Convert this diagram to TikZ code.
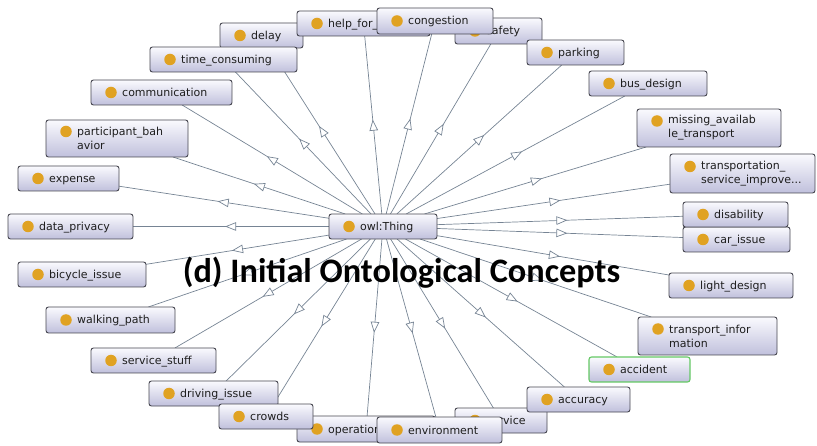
\documentclass[tikz,border=0pt]{standalone}
\usepackage{fontspec}
\setmainfont{DejaVu Sans}
\newfontfamily\titlefont{Carlito}
\usetikzlibrary{arrows.meta,decorations.markings}
\definecolor{boxtop}{RGB}{250,250,254}
\definecolor{boxbot}{RGB}{192,192,220}
\definecolor{boxline}{RGB}{70,70,80}
\definecolor{dotc}{RGB}{224,162,34}
\definecolor{edgec}{RGB}{118,132,148}
\definecolor{selc}{RGB}{100,200,100}
\definecolor{textc}{RGB}{30,30,30}
\pgfdeclarelayer{bg}\pgfdeclarelayer{fg}\pgfsetlayers{bg,main,fg}
\tikzset{
 cbox/.style={rectangle, rounded corners=2.5pt, draw=boxline, line width=0.9pt, top color=boxtop, bottom color=boxbot, inner sep=0pt, outer sep=0pt},
 cdot/.style={circle, fill=dotc, minimum size=11.5pt, inner sep=0pt},
 clabel/.style={inner sep=0pt, align=left, text=textc, font=\fontsize{11}{14}\selectfont},
 edge/.style={draw=edgec, line width=0.7pt, postaction={decorate},
   decoration={markings, mark=at position 0.53 with {\arrow{Triangle[length=11pt,width=8.5pt,fill=white,line width=0.7pt]}}}}
}
% single-line box: [style]{name}{left}{top}{right}{bottom}{label}
\newcommand\cbox[7][]{%
 \node[cbox,#1,minimum width={(#5-#3)*1pt},minimum height={(#6-#4)*1pt}] (#2) at ({(#3+#5)/2},{(#4+#6)/2}) {};
 \node[cdot] (#2d) at ([xshift=20pt]#2.west) {};
 \node[clabel,anchor=base west] (#2t) at ([xshift=31pt,yshift=-4pt]#2.west) {#7};
}
% two-line box
\newcommand\cboxii[7][]{%
 \node[cbox,#1,minimum width={(#5-#3)*1pt},minimum height={(#6-#4)*1pt}] (#2) at ({(#3+#5)/2},{(#4+#6)/2}) {};
 \node[cdot] (#2d) at ([xshift=20pt,yshift=7pt]#2.west) {};
 \node[clabel,anchor=west] (#2t) at ([xshift=31pt]#2.west) {#7};
}
\begin{document}
\begin{tikzpicture}[x=1pt,y=-1pt]
\useasboundingbox (0,0) rectangle (817,446);
\cbox{delay}{220}{23}{303}{48}{delay}
\cbox{help}{297}{11}{430}{36}{help\_for\_}
\cbox{safety}{455}{18}{542}{44}{safety}
\cbox{congestion}{377}{8}{493}{34}{congestion}
\cbox{timecons}{150}{47}{297}{72}{time\_consuming}
\cbox{communication}{91}{80}{232}{105}{communication}
\cboxii{participant}{46}{120}{188}{157}{participant\_bah\\avior}
\cbox{expense}{18}{166}{119}{191}{expense}
\cbox{dataprivacy}{8}{214}{133}{239}{data\_privacy}
\cbox{bicycle}{18}{262}{146}{287}{bicycle\_issue}
\cbox{walking}{46}{307}{175}{333}{walking\_path}
\cbox{servicestuff}{91}{348}{216}{373}{service\_stuff}
\cbox{driving}{149}{381}{278}{406}{driving\_issue}
\cbox{operation}{297}{416}{435}{442}{operation}
\cbox{crowds}{219}{404}{313}{429}{crowds}
\cbox{service}{455}{408}{547}{433}{service}
\cbox{environment}{377}{417}{502}{443}{environment}
\cbox{accuracy}{527}{387}{630}{412}{accuracy}
\cbox[draw=selc,line width=1.1pt]{accident}{589}{357}{690}{382}{accident}
\cboxii{tinfo}{638}{317}{777}{355}{transport\_infor\\mation}
\cbox{light}{669}{273}{793}{298}{light\_design}
\cbox{carissue}{683}{227}{790}{252}{car\_issue}
\cbox{disability}{683}{202}{788}{227}{disability}
\cboxii{tsi}{670}{154}{815}{193}{transportation\_\\service\_improve...}
\cboxii{missing}{637}{109}{781}{147}{missing\_availab\\le\_transport}
\cbox{busdesign}{589}{71}{707}{96}{bus\_design}
\cbox{parking}{527}{40}{624}{65}{parking}
\cbox{thing}{329}{214}{437}{239}{owl:Thing}
\begin{pgfonlayer}{bg}
\foreach \n in {delay,help,safety,congestion,timecons,communication,participant,expense,dataprivacy,bicycle,walking,servicestuff,driving,operation,crowds,service,environment,accuracy,accident,tinfo,light,carissue,disability,tsi,missing,busdesign,parking}
  \draw[edge] (thing) -- (\n);
\end{pgfonlayer}
\begin{pgfonlayer}{fg}
\node[anchor=base, inner sep=0pt, font=\titlefont\bfseries\fontsize{34.3}{40}\selectfont] (title) at (401.5,283) {(d) Initial Ontological Concepts};
\end{pgfonlayer}
\end{tikzpicture}
\end{document}
